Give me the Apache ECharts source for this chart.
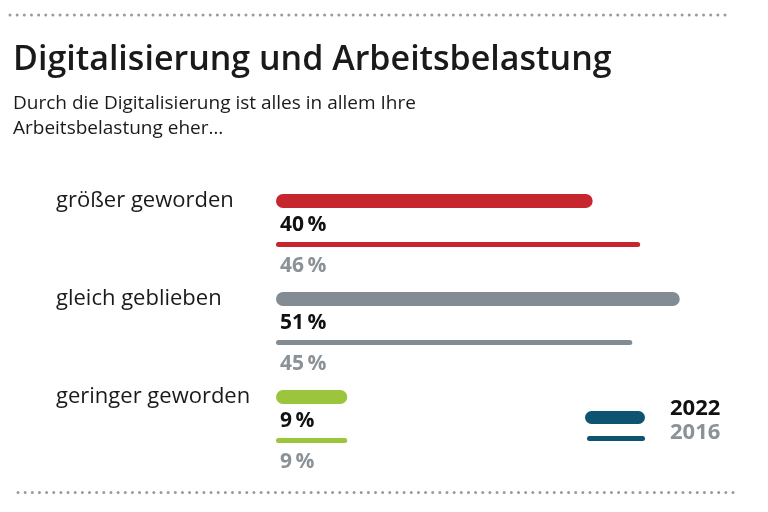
<!DOCTYPE html>
<html>
<head>
<meta charset="utf-8">
<script src="https://cdn.jsdelivr.net/npm/echarts@6/dist/echarts.min.js"></script>
<style>html,body{margin:0;padding:0;background:#fff}#c{width:768px;height:512px}</style>
</head>
<body>
<div id="c"></div>
<script>
const categories = ['größer geworden', 'gleich geblieben', 'geringer geworden'];
const values2022 = [40, 51, 9];
const values2016 = [46, 45, 9];
const barColors = ['#c6262e', '#848c93', '#9bc53d'];
const legendNames = ['2022', '2016'];
const titleText = 'Digitalisierung und Arbeitsbelastung';
const subtitleText = 'Durch die Digitalisierung ist alles in allem Ihre\nArbeitsbelastung eher…';

const FONT = 'Open Sans';
const chart = echarts.init(document.getElementById('c'), null, {renderer: 'canvas'});

function mk(vals) {
  return vals.map((v, i) => ({value: v, itemStyle: {color: barColors[i]}}));
}

const gridLeft = 276, gridWidth = 475;
chart.setOption({
  animation: false,
  title: {
    text: titleText,
    subtext: subtitleText,
    left: 8, top: 35,
    itemGap: 11,
    textStyle: {fontFamily: FONT, fontSize: 34, fontWeight: 600, color: '#1a1a1a', lineHeight: 40},
    subtextStyle: {fontFamily: FONT, fontSize: 19, color: '#1a1a1a', lineHeight: 25}
  },
  grid: [
    {left: gridLeft, width: gridWidth, top: 152, height: 294},
    {left: gridLeft, width: gridWidth, top: 195.5, height: 294}
  ],
  xAxis: [
    {gridIndex: 0, type: 'value', min: 0, max: 60, show: false},
    {gridIndex: 1, type: 'value', min: 0, max: 60, show: false}
  ],
  yAxis: [
    {gridIndex: 0, type: 'category', data: categories, inverse: true,
     axisLine: {show: false}, axisTick: {show: false}, splitLine: {show: false},
     axisLabel: {align: 'left', margin: gridLeft - 56, fontFamily: FONT, fontSize: 22, color: '#1a1a1a'}},
    {gridIndex: 1, type: 'category', data: categories, inverse: true, show: false}
  ],
  series: [
    {name: legendNames[0], type: 'bar', xAxisIndex: 0, yAxisIndex: 0, data: mk(values2022),
     barWidth: 14, itemStyle: {borderRadius: 7},
     label: {show: true, position: [4, 31], align: 'left', verticalAlign: 'middle',
       formatter: '{c}\u2009%', fontFamily: FONT, fontSize: 21, fontWeight: 'bold', color: '#111'}},
    {name: legendNames[1], type: 'bar', xAxisIndex: 1, yAxisIndex: 1, data: mk(values2016),
     barWidth: 5, itemStyle: {borderRadius: 2.5},
     label: {show: true, position: [4, 24], align: 'left', verticalAlign: 'middle',
       formatter: '{c}\u2009%', fontFamily: FONT, fontSize: 21, fontWeight: 'bold', color: '#8a9297'}}
  ],
  graphic: [
    {type: 'line', shape: {x1: 10, y1: 15, x2: 728, y2: 15},
     style: {stroke: '#9a9a9a', lineWidth: 3, lineDash: [0, 7.15], lineCap: 'round'}},
    {type: 'line', shape: {x1: 18, y1: 492.5, x2: 734, y2: 492.5},
     style: {stroke: '#9a9a9a', lineWidth: 3, lineDash: [0, 7.15], lineCap: 'round'}},
    {type: 'rect', shape: {x: 585, y: 411, width: 60, height: 13, r: 6.5}, style: {fill: '#0e5470'}},
    {type: 'rect', shape: {x: 587, y: 436, width: 58, height: 5, r: 2.5}, style: {fill: '#0e5470'}},
    {type: 'text', left: 670, top: 398, style: {text: legendNames[0], fontFamily: FONT, fontSize: 22, fontWeight: 'bold', fill: '#111'}},
    {type: 'text', left: 670, top: 422, style: {text: legendNames[1], fontFamily: FONT, fontSize: 22, fontWeight: 'bold', fill: '#8a9297'}}
  ]
});
</script>
</body>
</html>
